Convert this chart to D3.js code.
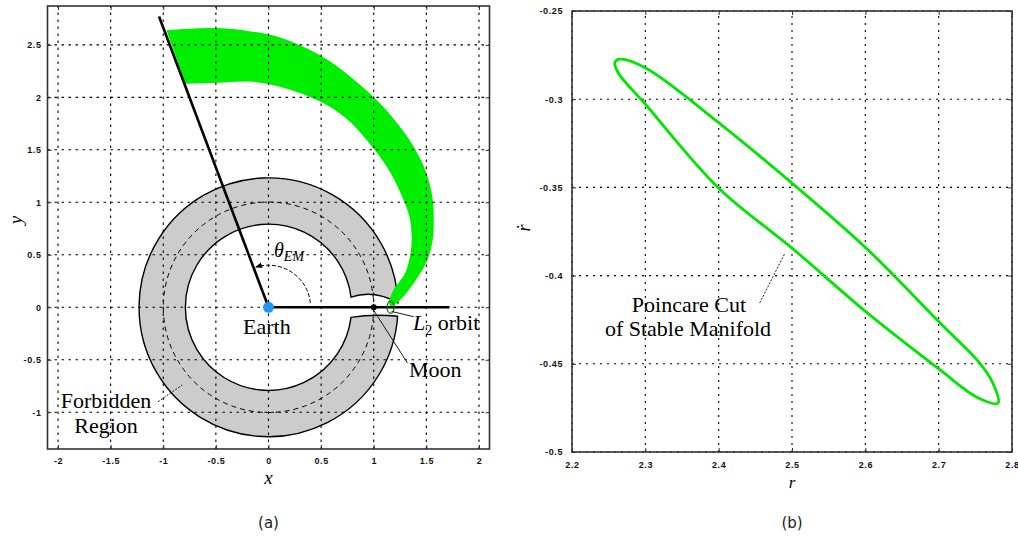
<!DOCTYPE html>
<html>
<head>
<meta charset="utf-8">
<script src="https://cdn.jsdelivr.net/npm/d3@7"></script>
<style>
  body { margin: 0; background: #fff; }
  .tick text { font-family: "Liberation Sans", Arial, sans-serif; font-size: 9px; font-weight: bold; fill: #111; letter-spacing: 0.6px; }
  .tick line { stroke: #333; }
  .ann { font-family: "Liberation Serif", "Times New Roman", serif; fill: #000; }
  .cap { font-family: "DejaVu Sans", sans-serif; font-size: 15px; fill: #222; }
</style>
</head>
<body>
<svg id="chart" width="1018" height="537"></svg>
<script>
// ---- data (a): Earth-Moon frame ----
const leftXTicks = [-2, -1.5, -1, -0.5, 0, 0.5, 1, 1.5, 2];
const leftYTicks = [-1, -0.5, 0, 0.5, 1, 1.5, 2, 2.5];

// green band (stable manifold tube), outer edge then inner edge
const bandOuter = [[-0.97, 2.64], [-0.49, 2.66], [-0.18, 2.63], [0.11, 2.57], [0.51, 2.39],
  [0.75, 2.22], [1.0, 2.0], [1.21, 1.77], [1.38, 1.53], [1.5, 1.28], [1.56, 1.03],
  [1.57, 0.83], [1.56, 0.64], [1.51, 0.45], [1.38, 0.23], [1.23, 0.05], [1.16, 0.0]];
const bandInner = [[1.14, 0.05], [1.19, 0.17], [1.3, 0.33], [1.35, 0.52], [1.36, 0.68],
  [1.34, 0.86], [1.28, 1.03], [1.16, 1.28], [1.0, 1.51], [0.76, 1.78], [0.51, 1.95],
  [0.11, 2.1], [-0.18, 2.15], [-0.49, 2.14], [-0.79, 2.13]];

// forbidden region: radii and the edges of the opening near the Moon (degrees)
const forbiddenInner = 0.79;
const forbiddenOuter = 1.23;
const gapInnerTop = 7, gapOuterTop = 2;
const gapInnerBottom = 7, gapOuterBottom = 4;
const gapBumpTop = [1.0, 0.17];
const gapBumpBottom = [1.0, -0.06];
const moonOrbitR = 1;
const earth = [0, 0];
const moon = [1, 0];
const l2Orbit = [1.16, 0];
const thetaLineEnd = [-1.04, 2.77];
const xLineEnd = 1.72;
const thetaArcR = 0.4;

// ---- data (b): Poincare cut ----
const rightXTicks = [2.2, 2.3, 2.4, 2.5, 2.6, 2.7, 2.8];
const rightYTicks = [-0.5, -0.45, -0.4, -0.35, -0.3, -0.25];
const poincareCut = [[2.2586, -0.279], [2.265, -0.2773], [2.301, -0.2824], [2.399, -0.313],
  [2.5, -0.3476], [2.601, -0.3844], [2.702, -0.4269], [2.756, -0.4496], [2.774, -0.461],
  [2.781, -0.4722], [2.752, -0.4689], [2.702, -0.4535], [2.601, -0.4206], [2.5, -0.3844],
  [2.399, -0.35], [2.301, -0.3033], [2.263, -0.285]];

const svg = d3.select('#chart');
svg.append('rect').attr('width', 1018).attr('height', 537).attr('fill', '#fff');

const defs = svg.append('defs');
defs.append('marker')
    .attr('id', 'arrow')
    .attr('viewBox', '0 0 10 10')
    .attr('refX', 9).attr('refY', 5)
    .attr('markerWidth', 7).attr('markerHeight', 7)
    .attr('orient', 'auto')
  .append('path')
    .attr('d', 'M0,1 L10,5 L0,9 Z')
    .attr('fill', '#000');

function drawGrid(g, x, y, xt, yt, dash) {
    g.append('g').selectAll('line').data(xt).join('line')
        .attr('x1', d => x(d)).attr('x2', d => x(d))
        .attr('y1', y.range()[0]).attr('y2', y.range()[1])
        .attr('stroke', '#000').attr('stroke-width', 1.1)
        .attr('stroke-dasharray', dash);
    g.append('g').selectAll('line').data(yt).join('line')
        .attr('x1', x.range()[0]).attr('x2', x.range()[1])
        .attr('y1', d => y(d)).attr('y2', d => y(d))
        .attr('stroke', '#000').attr('stroke-width', 1.1)
        .attr('stroke-dasharray', dash);
}

function drawFrame(g, x, y, xt, yt, xPad, yPad) {
    const [x0, x1] = x.range();
    const [y0, y1] = y.range();
    const fmt = d => String(d);
    g.append('g').attr('transform', `translate(0,${y0})`)
        .call(d3.axisBottom(x).tickValues(xt).tickFormat(fmt).tickSize(-4).tickPadding(xPad))
        .call(a => a.select('.domain').remove());
    g.append('g').attr('transform', `translate(0,${y1})`)
        .call(d3.axisTop(x).tickValues(xt).tickFormat('').tickSize(-4))
        .call(a => a.select('.domain').remove());
    g.append('g').attr('transform', `translate(${x0},0)`)
        .call(d3.axisLeft(y).tickValues(yt).tickFormat(fmt).tickSize(-4).tickPadding(yPad))
        .call(a => a.select('.domain').remove());
    g.append('g').attr('transform', `translate(${x1},0)`)
        .call(d3.axisRight(y).tickValues(yt).tickFormat('').tickSize(-4))
        .call(a => a.select('.domain').remove());
    g.append('rect')
        .attr('x', x0).attr('y', y1)
        .attr('width', x1 - x0).attr('height', y0 - y1)
        .attr('fill', 'none').attr('stroke', '#333').attr('stroke-width', 1.6);
}

// ================= panel (a) =================
const xA = d3.scaleLinear().domain([-2.1, 2.1]).range([47.5, 489.5]);
const yA = d3.scaleLinear().domain([-1.35, 2.87]).range([449, 6]);
const rPx = r => xA(r) - xA(0);
const gA = svg.append('g');
const cx = xA(earth[0]), cy = yA(earth[1]);
const rad = deg => deg * Math.PI / 180;

// forbidden region (annulus with an opening around the Moon)
const Ro = rPx(forbiddenOuter), Ri = rPx(forbiddenInner);
const fp = d3.path();
fp.moveTo(cx + Ro * Math.cos(-rad(gapOuterTop)), cy + Ro * Math.sin(-rad(gapOuterTop)));
fp.arc(cx, cy, Ro, -rad(gapOuterTop), rad(gapOuterBottom), true);
fp.quadraticCurveTo(xA(gapBumpBottom[0]), yA(gapBumpBottom[1]),
    cx + Ri * Math.cos(rad(gapInnerBottom)), cy + Ri * Math.sin(rad(gapInnerBottom)));
fp.arc(cx, cy, Ri, rad(gapInnerBottom), -rad(gapInnerTop), false);
fp.quadraticCurveTo(xA(gapBumpTop[0]), yA(gapBumpTop[1]),
    cx + Ro * Math.cos(-rad(gapOuterTop)), cy + Ro * Math.sin(-rad(gapOuterTop)));
fp.closePath();
gA.append('path')
    .attr('d', fp.toString())
    .attr('fill', '#cccccc').attr('stroke', '#000').attr('stroke-width', 1.4);

// moon orbit (dashed)
gA.append('circle')
    .attr('cx', cx).attr('cy', cy).attr('r', rPx(moonOrbitR))
    .attr('fill', 'none').attr('stroke', '#000').attr('stroke-width', 1)
    .attr('stroke-dasharray', '5,4');

// green band
const bandLine = d3.line().x(d => xA(d[0])).y(d => yA(d[1])).curve(d3.curveCatmullRom);
gA.append('path')
    .attr('d', bandLine(bandOuter) + 'L' + bandLine(bandInner).slice(1) + 'Z')
    .attr('fill', '#00ee00');

drawGrid(gA, xA, yA, leftXTicks, leftYTicks, '2.5,4.5');

// theta angle arc
const thetaAngle = Math.atan2(thetaLineEnd[1], thetaLineEnd[0]);
const arcPath = d3.path();
arcPath.arc(cx, cy, rPx(thetaArcR), -rad(6), -thetaAngle + rad(3), true);
gA.append('path')
    .attr('d', arcPath.toString())
    .attr('fill', 'none').attr('stroke', '#000').attr('stroke-width', 1)
    .attr('stroke-dasharray', '4,2')
    .attr('marker-end', 'url(#arrow)');

// lines from Earth
gA.append('line')
    .attr('x1', cx).attr('y1', cy)
    .attr('x2', xA(thetaLineEnd[0])).attr('y2', yA(thetaLineEnd[1]))
    .attr('stroke', '#000').attr('stroke-width', 2.6);
gA.append('line')
    .attr('x1', cx).attr('y1', cy)
    .attr('x2', xA(xLineEnd)).attr('y2', yA(0))
    .attr('stroke', '#000').attr('stroke-width', 2.6);

// L2 orbit, Moon, Earth
gA.append('ellipse')
    .attr('cx', xA(l2Orbit[0])).attr('cy', yA(l2Orbit[1]))
    .attr('rx', 3.5).attr('ry', 6)
    .attr('fill', 'none').attr('stroke', '#0a6a0a').attr('stroke-width', 1.3);
gA.append('circle')
    .attr('cx', xA(moon[0])).attr('cy', yA(moon[1])).attr('r', 3)
    .attr('fill', '#000');
gA.append('circle')
    .attr('cx', cx).attr('cy', cy).attr('r', 5.5)
    .attr('fill', '#2196f3');

// leaders
const leader = (a, b, dash) => gA.append('line')
    .attr('x1', xA(a[0])).attr('y1', yA(a[1]))
    .attr('x2', xA(b[0])).attr('y2', yA(b[1]))
    .attr('stroke', '#000').attr('stroke-width', 0.9)
    .attr('stroke-dasharray', dash || null);
leader([1.0, -0.03], [1.32, -0.53]);
leader([1.17, -0.04], [1.38, -0.09]);
leader([-1.05, -0.9], [-0.82, -0.74], '2,1.5');

// labels
gA.append('text').attr('class', 'ann').attr('x', 243).attr('y', 334)
    .attr('font-size', 22).text('Earth');
gA.append('text').attr('class', 'ann').attr('x', 409).attr('y', 377)
    .attr('font-size', 22).text('Moon');
const l2t = gA.append('text').attr('class', 'ann').attr('x', 413).attr('y', 330).attr('font-size', 22);
l2t.append('tspan').attr('font-style', 'italic').text('L');
l2t.append('tspan').attr('font-size', 14).attr('dy', 5).text('2');
l2t.append('tspan').attr('dy', -5).text(' orbit');
const fb = gA.append('text').attr('class', 'ann').attr('text-anchor', 'middle').attr('font-size', 22);
fb.append('tspan').attr('x', 106).attr('y', 408).text('Forbidden');
fb.append('tspan').attr('x', 106).attr('y', 433).text('Region');
const th = gA.append('text').attr('class', 'ann').attr('x', 274).attr('y', 257)
    .attr('font-size', 20).attr('font-style', 'italic');
th.append('tspan').text('θ');
th.append('tspan').attr('font-size', 14).attr('dy', 4).text('EM');

drawFrame(gA, xA, yA, leftXTicks, leftYTicks, 9, 6);

gA.append('text').attr('class', 'ann').attr('x', xA(0)).attr('y', 484)
    .attr('text-anchor', 'middle').attr('font-size', 19).attr('font-style', 'italic').text('x');
gA.append('text').attr('class', 'ann')
    .attr('transform', 'translate(22,220) rotate(-90)')
    .attr('text-anchor', 'middle').attr('font-size', 19).attr('font-style', 'italic').text('y');
gA.append('text').attr('class', 'cap').attr('x', xA(0)).attr('y', 528)
    .attr('text-anchor', 'middle').text('(a)');

// ================= panel (b) =================
const xB = d3.scaleLinear().domain([2.2, 2.8]).range([572, 1012]);
const yB = d3.scaleLinear().domain([-0.5, -0.25]).range([452, 11]);
const gB = svg.append('g');

drawGrid(gB, xB, yB, rightXTicks, rightYTicks, '2,5');

gB.append('path')
    .attr('d', d3.line().x(d => xB(d[0])).y(d => yB(d[1])).curve(d3.curveCatmullRomClosed)(poincareCut))
    .attr('fill', 'none').attr('stroke', '#00e600').attr('stroke-width', 2.8);

gB.append('line')
    .attr('x1', xB(2.456)).attr('y1', yB(-0.4155))
    .attr('x2', xB(2.4905)).attr('y2', yB(-0.3872))
    .attr('stroke', '#000').attr('stroke-width', 0.9).attr('stroke-dasharray', '2,1.5');
const pc = gB.append('text').attr('class', 'ann').attr('text-anchor', 'middle').attr('font-size', 22);
pc.append('tspan').attr('x', 689).attr('y', 312).text('Poincare Cut');
pc.append('tspan').attr('x', 688).attr('y', 336).text('of Stable Manifold');

drawFrame(gB, xB, yB, rightXTicks, rightYTicks, 10, 9);

gB.append('text').attr('class', 'ann').attr('x', xB(2.5)).attr('y', 488)
    .attr('text-anchor', 'middle').attr('font-size', 17).attr('font-style', 'italic').text('r');
gB.append('text').attr('class', 'ann')
    .attr('transform', 'translate(530,228) rotate(-90)')
    .attr('text-anchor', 'middle').attr('font-size', 18).attr('font-style', 'italic').text('r\u0307');
gB.append('text').attr('class', 'cap').attr('x', xB(2.5)).attr('y', 528)
    .attr('text-anchor', 'middle').text('(b)');
</script>
</body>
</html>
